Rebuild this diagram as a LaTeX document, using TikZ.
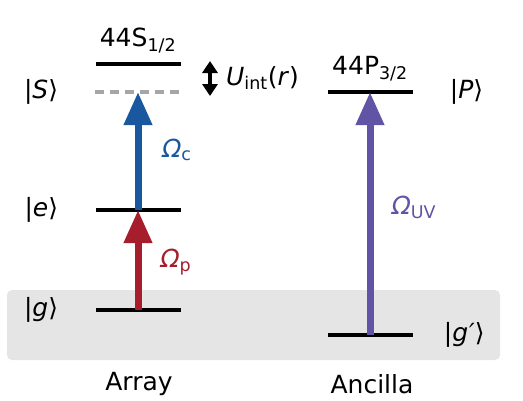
\documentclass[tikz,border=0pt]{standalone}
\usepackage{fontspec}
\setmainfont{DejaVu Sans}
\usepackage{tikz}
\usetikzlibrary{
    arrows.meta,
    positioning,
    backgrounds,
}

\definecolor{couplingblue}{RGB}{25,88,158}
\definecolor{probered}{RGB}{166,30,44}
\definecolor{uvpurple}{RGB}{98,84,164}
\newcommand{\ket}[1]{|\textit{#1}\char"27E9}

\begin{document}
\begin{tikzpicture}[
        x=1pt, y=-1pt,
        level/.style={
            rectangle, fill=black, inner sep=0pt,
            minimum width=85pt, minimum height=3.5pt
        },
        virtual/.style={
            rectangle, inner sep=0pt,
            minimum width=85pt, minimum height=3.5pt
        },
        statelabel/.style={font=\fontsize{25}{28}\selectfont, inner sep=0pt},
        rabi/.style={font=\fontsize{25}{28}\selectfont, inner sep=0pt, text=#1},
        beam/.style={
            draw=#1, line width=7pt,
            -{Triangle[length=33pt, width=27pt]}
        },
        shift arrow/.style={
            line width=3.5pt,
            {Triangle[length=12pt, width=15pt]}-{Triangle[length=12pt, width=15pt]}
        },
    ]

    % ── frame and ground band ──
    \useasboundingbox (0,0) rectangle (523,400);
    \fill[black!10, rounded corners=5pt] (7,290) rectangle (500,360);

    % ── Array levels ──
    \node[level] (S44) at (138,64) {};
    \node[virtual] (S) at (138,92) {};
    \draw[black!35, line width=3.5pt, dash pattern=on 9pt off 6pt] (S.west) -- (S.east);
    \node[level] (e) at (138,210) {};
    \node[level] (g) at (138,310) {};

    % ── Ancilla levels ──
    \node[level] (P) at (370,92) {};
    \node[level] (gp) at (370,335) {};

    % ── Transitions ──
    \draw[beam=couplingblue] (e.center) -- (S.center);
    \draw[beam=probered] (g.center) -- (e.center);
    \draw[beam=uvpurple] (gp.center) -- (P.center);

    % ── Interaction shift ──
    \coordinate (Utop) at (210,61);
    \coordinate (Ubot) at (210,96);
    \draw[shift arrow] (Utop) -- (Ubot);
    \node[statelabel, anchor=west] (Uint) at (226,78)
        {\textit{U}\textsubscript{int}(\textit{r})};

    % ── State labels ──
    \node[statelabel, above=9pt of S44] (S44lab) {44S\textsubscript{1/2}};
    \node[statelabel, above=9pt of P] (P44lab) {44P\textsubscript{3/2}};
    \node[statelabel, left=37pt of S] (Slab) {\ket{S}};
    \node[statelabel, left=37pt of e] (elab) {\ket{e}};
    \node[statelabel, left=37pt of g] (glab) {\ket{g}};
    \node[statelabel, right=37pt of P] (Plab) {\ket{P}};
    \node[statelabel, right=31pt of gp] (gplab) {\ket{g\kern1pt′}};

    % ── Rabi frequencies ──
    \node[rabi=couplingblue] (Oc) at (177,150) {\textit{Ω}\textsubscript{c}};
    \node[rabi=probered] (Op) at (176,262) {\textit{Ω}\textsubscript{p}};
    \node[rabi=uvpurple] (Ouv) at (414,207) {\textit{Ω}\textsubscript{UV}};

    % ── Captions ──
    \node[statelabel] (array) at (139,384) {Array};
    \node[statelabel] (ancilla) at (372,384) {Ancilla};

\end{tikzpicture}
\end{document}
